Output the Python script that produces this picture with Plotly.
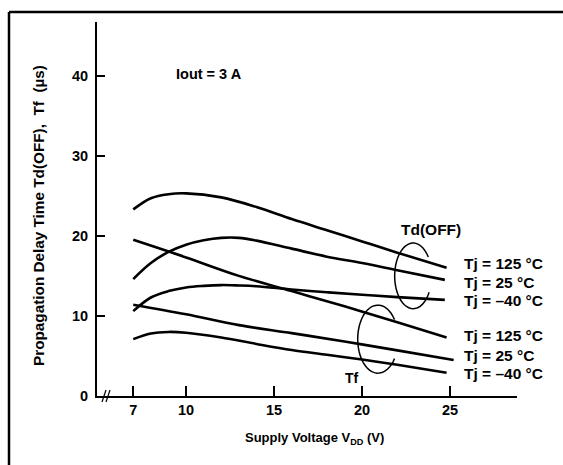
import math
import plotly.graph_objects as go

# ---------------- data ----------------
td125_v = [7, 8, 9, 10, 12, 14, 16, 18, 20, 22, 24.8]
td125_t = [23.3, 24.7, 25.2, 25.3, 24.8, 23.6, 22.1, 20.7, 19.3, 17.9, 16.0]

td25_v = [7, 8, 9, 10, 11, 12, 13, 14, 16, 18, 20, 22, 24.7]
td25_t = [14.6, 16.6, 18.0, 18.9, 19.45, 19.75, 19.75, 19.4, 18.4, 17.4, 16.6, 15.7, 14.5]

tdm40_v = [7, 8, 9, 10, 11, 12, 13, 14, 16, 18, 20, 22, 24.7]
tdm40_t = [10.6, 12.3, 13.1, 13.55, 13.75, 13.85, 13.8, 13.7, 13.3, 12.95, 12.65, 12.35, 12.0]

tf125_v = [7, 10, 13, 16, 19, 22, 24.8]
tf125_t = [19.5, 17.3, 15.0, 13.1, 11.2, 9.2, 7.3]

tf25_v = [7, 10, 13, 16, 19, 22, 25.2]
tf25_t = [11.4, 10.2, 8.85, 7.85, 6.8, 5.7, 4.5]

tfm40_v = [7, 8, 9, 10, 12, 14, 16, 18, 20, 22, 24.8]
tfm40_t = [7.1, 7.8, 8.0, 7.9, 7.3, 6.5, 5.75, 5.15, 4.55, 3.9, 2.9]

x_ticks = [7, 10, 15, 20, 25]
y_ticks = [0, 10, 20, 30, 40]

label_texts = ["Tj = 125 °C", "Tj = 25 °C", "Tj = –40 °C",
               "Tj = 125 °C", "Tj = 25 °C", "Tj = –40 °C"]
label_y = [16.6, 14.2, 11.9, 7.6, 5.0, 2.85]
label_x = 25.7

# ---------------- layout constants ----------------
W, H = 563, 465
ML, MR, MT, MB = 97, 46, 22, 69
PW = W - ML - MR
PH = H - MT - MB
FONT = "Liberation Sans, Arial, sans-serif"


def px2paper_x(px):          # px: page pixel
    return (px - ML) / PW


def py2paper_y(py):
    return (H - MB - py) / PH


def bold(s):
    return f"<b>{s}</b>"


fig = go.Figure()
series = [(td125_v, td125_t), (td25_v, td25_t), (tdm40_v, tdm40_t),
          (tf125_v, tf125_t), (tf25_v, tf25_t), (tfm40_v, tfm40_t)]
for xs, ys in series:
    fig.add_trace(go.Scatter(x=xs, y=ys, mode="lines",
                             line=dict(color="black", width=2.6, shape="spline", smoothing=1.0),
                             showlegend=False, hoverinfo="skip"))

annotations = []
for txt, yy in zip(label_texts, label_y):
    annotations.append(dict(x=label_x, y=yy, xref="x", yref="y", text=bold(txt), showarrow=False,
                            xanchor="left", yanchor="middle",
                            font=dict(family=FONT, size=15.5, color="black")))
annotations += [
    dict(x=23.9, y=20.75, xref="x", yref="y", text=bold("Td(OFF)"), showarrow=False,
         font=dict(family=FONT, size=15.5, color="black")),
    dict(x=19.45, y=2.3, xref="x", yref="y", text=bold("Tf"), showarrow=False,
         font=dict(family=FONT, size=14, color="black")),
    dict(x=11.3, y=40.25, xref="x", yref="y", text=bold("Iout = 3 A"), showarrow=False,
         font=dict(family=FONT, size=14.5, color="black")),
    dict(x=0, y=0.5, xref="paper", yref="paper", xshift=-59, yshift=-7,
         text=bold("Propagation Delay Time Td(OFF),  Tf  (µs)"), textangle=-90, showarrow=False,
         xanchor="center", yanchor="middle",
         font=dict(family=FONT, size=15.3, color="black")),
    dict(x=0.5, y=0, xref="paper", yref="paper", xshift=7, yshift=-42,
         text=bold("Supply Voltage V<sub>DD</sub> (V)"), showarrow=False,
         xanchor="center", yanchor="middle",
         font=dict(family=FONT, size=13, color="black")),
]


def loop_path(cx, cy, rx, ry, a0, a1, n=40):
    pts = []
    for i in range(n + 1):
        a = math.radians(a0 + (a1 - a0) * i / n)
        pts.append((cx + rx * math.cos(a), cy + ry * math.sin(a)))
    return "M " + " L ".join(f"{x:.3f},{y:.3f}" for x, y in pts)


shapes = [
    dict(type="path", xref="x", yref="y", path=loop_path(22.9, 15.0, 1.05, 4.1, 35, 330),
         line=dict(color="black", width=1.5)),
    dict(type="path", xref="x", yref="y", path=loop_path(20.9, 7.1, 1.15, 4.25, 35, 325),
         line=dict(color="black", width=1.5)),
    # outer frame (left and top edges visible)
    dict(type="line", xref="paper", yref="paper",
         x0=px2paper_x(9), x1=px2paper_x(9), y0=py2paper_y(12), y1=py2paper_y(470),
         line=dict(color="black", width=2.5)),
    dict(type="line", xref="paper", yref="paper",
         x0=px2paper_x(9), x1=px2paper_x(570), y0=py2paper_y(12), y1=py2paper_y(12),
         line=dict(color="black", width=2.5)),
]
# axis break marks
for bx in (104, 108):
    shapes.append(dict(type="line", xref="paper", yref="paper",
                       x0=px2paper_x(bx - 2), x1=px2paper_x(bx + 2),
                       y0=py2paper_y(402), y1=py2paper_y(390),
                       line=dict(color="black", width=1.2)))

fig.update_layout(
    width=W, height=H,
    margin=dict(l=ML, r=MR, t=MT, b=MB),
    paper_bgcolor="white", plot_bgcolor="white",
    annotations=annotations, shapes=shapes,
    font=dict(family=FONT, color="black"),
)
fig.update_xaxes(range=[4.94, 28.8], tickvals=x_ticks, ticktext=[bold(v) for v in x_ticks],
                 ticks="inside", ticklen=10, tickwidth=1.5, tickcolor="black",
                 showline=True, linecolor="black", linewidth=2, mirror=False,
                 showgrid=False, zeroline=False,
                 tickfont=dict(family=FONT, size=14.5, color="black"))
fig.update_yaxes(range=[0, 46.7], tickvals=y_ticks, ticktext=[bold(v) for v in y_ticks],
                 ticks="inside", ticklen=8, tickwidth=1.5, tickcolor="black",
                 showline=True, linecolor="black", linewidth=2, mirror=False,
                 showgrid=False, zeroline=False, ticklabelstandoff=4,
                 tickfont=dict(family=FONT, size=14.5, color="black"))

page_reset = ("document.documentElement.style.overflow='hidden';"
              "document.body.style.overflow='hidden';"
              "document.body.style.margin='0';")
fig.write_html("out.html", config={"displayModeBar": False}, post_script=page_reset)
